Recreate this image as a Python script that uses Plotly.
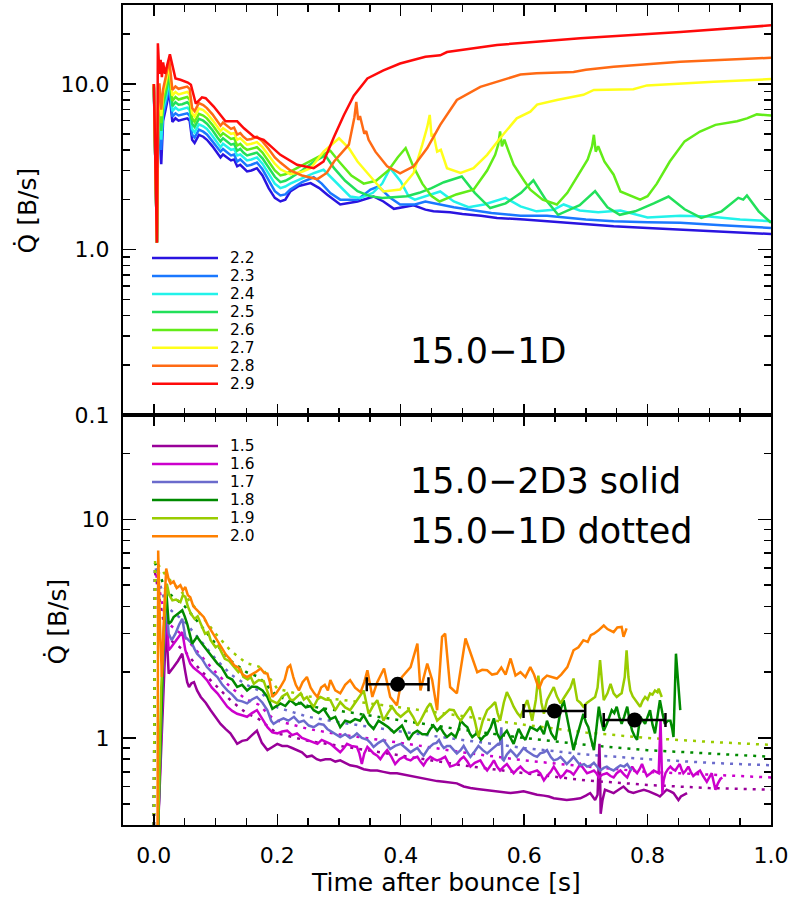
import math
import plotly.graph_objects as go

# ---------------- data: top panel (15.0-1D), Q-dot [B/s] vs time after bounce [s]
T_EARLY = [0.0, 0.005, 0.007, 0.009, 0.012, 0.015, 0.019, 0.025, 0.030, 0.035,
           0.040, 0.046, 0.054, 0.058, 0.062, 0.066, 0.073, 0.080, 0.086, 0.095,
           0.103, 0.108, 0.112, 0.119, 0.125, 0.130, 0.135, 0.140, 0.145, 0.151,
           0.158, 0.167, 0.176, 0.186, 0.196, 0.205]

Q22_EARLY = [9.5, 1.1, 5.0, 6.5, 3.27, 6.0, 7.0, 9.0, 5.9, 6.2, 6.0, 6.07, 6.2, 6.0, 4.6, 4.4, 4.93, 4.8, 4.6, 4.2,
             3.82, 3.6, 3.75, 3.56, 3.45, 3.5, 3.18, 3.25, 3.1, 2.96, 3.0, 3.1, 2.8, 2.35, 2.05, 1.95]
Q23_EARLY = [9.6, 1.1, 5.4, 7.0, 4.0, 6.5, 7.5, 9.7, 6.35, 6.65, 6.45, 6.55, 6.65, 6.45, 4.95, 4.75, 5.3, 5.15, 4.95, 4.5,
             4.1, 3.9, 4.05, 3.85, 3.7, 3.75, 3.4, 3.5, 3.35, 3.2, 3.25, 3.35, 3.05, 2.6, 2.25, 2.12]
Q24_EARLY = [9.7, 1.1, 5.8, 7.5, 4.6, 7.0, 8.1, 10.4, 6.85, 7.2, 6.95, 7.05, 7.2, 6.95, 5.35, 5.1, 5.7, 5.55, 5.35, 4.85,
             4.45, 4.15, 4.35, 4.15, 4.0, 4.05, 3.7, 3.75, 3.6, 3.45, 3.5, 3.6, 3.3, 2.85, 2.5, 2.35]
Q25_EARLY = [9.8, 1.1, 6.2, 8.1, 5.2, 7.5, 8.7, 11.2, 7.35, 7.75, 7.5, 7.55, 7.75, 7.5, 5.75, 5.5, 6.15, 6.0, 5.75, 5.25,
             4.75, 4.5, 4.7, 4.45, 4.3, 4.35, 3.95, 4.05, 3.85, 3.7, 3.75, 3.85, 3.55, 3.1, 2.75, 2.55]
Q26_EARLY = [9.9, 1.1, 6.7, 8.7, 5.8, 8.1, 9.4, 12.1, 7.9, 8.35, 8.05, 8.15, 8.35, 8.05, 6.2, 5.9, 6.6, 6.45, 6.2, 5.65,
             5.15, 4.85, 5.05, 4.8, 4.65, 4.7, 4.25, 4.35, 4.15, 4.0, 4.05, 4.15, 3.85, 3.4, 3.0, 2.8]
Q27_EARLY = [10.0, 1.1, 7.2, 9.4, 6.4, 8.7, 10.1, 13.0, 8.5, 8.95, 8.65, 8.75, 8.95, 8.65, 6.65, 6.35, 7.1, 6.95, 6.65, 6.05,
             5.5, 5.2, 5.4, 5.15, 5.0, 5.05, 4.6, 4.7, 4.5, 4.3, 4.35, 4.45, 4.15, 3.7, 3.3, 3.05]
Q28_EARLY = [10.0, 1.1, 7.8, 10.1, 7.0, 9.3, 10.9, 14.0, 9.2, 9.65, 9.35, 9.45, 9.65, 9.35, 7.15, 6.85, 7.65, 7.45, 7.15, 6.55,
             5.95, 5.6, 5.85, 5.55, 5.35, 5.45, 4.95, 5.05, 4.8, 4.6, 4.65, 4.8, 4.5, 4.05, 3.6, 3.35]

T22_LATE = [0.213, 0.221, 0.235, 0.254, 0.268, 0.281, 0.302, 0.33, 0.356, 0.372, 0.389, 0.405, 0.421, 0.44, 0.453,
            0.48, 0.50, 0.53, 0.556, 0.60, 0.637, 0.67, 0.70, 0.745, 0.80, 0.853, 0.92, 0.96, 1.0]
Q22_LATE = [2.0, 2.24, 2.42, 2.52, 2.35, 2.14, 1.87, 1.95, 2.09, 1.95, 1.76, 1.8, 1.85, 1.74, 1.70,
            1.68, 1.64, 1.6, 1.55, 1.52, 1.48, 1.46, 1.42, 1.38, 1.35, 1.32, 1.28, 1.26, 1.24]

T23_LATE = [0.213, 0.221, 0.24, 0.259, 0.272, 0.286, 0.302, 0.33, 0.351, 0.364, 0.383, 0.399, 0.423, 0.44, 0.46,
            0.486, 0.52, 0.547, 0.594, 0.637, 0.70, 0.745, 0.80, 0.853, 0.92, 1.0]
Q23_LATE = [2.15, 2.3, 2.55, 2.73, 2.5, 2.19, 2.0, 2.0, 2.3, 2.4, 2.05, 1.87, 1.87, 1.95, 1.88,
            1.8, 1.72, 1.66, 1.6, 1.6, 1.52, 1.48, 1.46, 1.45, 1.4, 1.35]

T24_LATE = [0.213, 0.221, 0.24, 0.26, 0.275, 0.29, 0.302, 0.318, 0.335, 0.355, 0.37, 0.383, 0.40, 0.413, 0.423,
            0.44, 0.464, 0.486, 0.51, 0.535, 0.57, 0.594, 0.62, 0.648, 0.664, 0.69, 0.72, 0.756, 0.80, 0.853,
            0.90, 0.95, 1.0]
Q24_LATE = [2.4, 2.5, 2.7, 2.9, 3.03, 2.65, 2.4, 2.09, 2.05, 2.2, 2.5, 3.1, 2.58, 2.09, 2.0,
            2.1, 2.24, 1.95, 1.8, 1.87, 2.05, 1.82, 1.7, 1.74, 1.87, 1.72, 1.68, 1.72, 1.56, 1.6,
            1.58, 1.52, 1.48]

T25_LATE = [0.213, 0.221, 0.24, 0.26, 0.278, 0.292, 0.31, 0.33, 0.35, 0.37, 0.39, 0.41, 0.43, 0.45, 0.47,
            0.499, 0.52, 0.545, 0.57, 0.595, 0.615, 0.635, 0.655, 0.69, 0.715, 0.735, 0.755, 0.78, 0.81, 0.834,
            0.86, 0.887, 0.92, 0.947, 0.955, 0.961, 0.98, 1.0]
Q25_LATE = [2.6, 2.7, 3.0, 3.4, 3.7, 3.1, 2.6, 2.25, 2.1, 2.05, 2.08, 2.1, 2.2, 2.35, 2.55,
            2.76, 2.2, 1.78, 1.9, 2.2, 2.62, 2.0, 1.62, 1.85, 2.25, 1.8, 1.62, 1.7, 1.9, 2.09,
            1.75, 1.55, 1.7, 2.05, 2.0, 2.12, 1.7, 1.45]

T26_LATE = [0.213, 0.221, 0.24, 0.265, 0.286, 0.30, 0.32, 0.34, 0.36, 0.38, 0.395, 0.408, 0.42, 0.435, 0.45,
            0.463, 0.49, 0.518, 0.54, 0.553, 0.558, 0.561, 0.564, 0.568, 0.575, 0.583, 0.60, 0.61, 0.63, 0.653,
            0.67, 0.691, 0.703, 0.71, 0.713, 0.716, 0.72, 0.73, 0.745, 0.756, 0.788, 0.80, 0.815, 0.836, 0.86,
            0.885, 0.91, 0.945, 0.961, 0.977, 1.0]
Q26_LATE = [2.85, 2.95, 3.2, 3.6, 3.95, 3.4, 2.8, 2.5, 2.6, 3.0, 3.6, 4.1, 3.2, 2.5, 2.1,
            1.95, 2.15, 2.3, 3.0, 3.73, 4.3, 5.16, 4.2, 4.6, 3.9, 3.25, 2.6, 2.3, 2.0, 1.87,
            2.2, 2.96, 3.5, 4.2, 4.93, 3.9, 4.2, 3.4, 2.83, 2.24, 2.0, 2.1, 2.5, 3.4, 4.5,
            5.16, 5.66, 5.95, 6.2, 6.55, 6.45]

T27_LATE = [0.221, 0.24, 0.254, 0.275, 0.30, 0.316, 0.33, 0.346, 0.372, 0.399, 0.421, 0.435, 0.443, 0.447, 0.450,
            0.453, 0.459, 0.465, 0.475, 0.497, 0.518, 0.54, 0.561, 0.588, 0.61, 0.621, 0.653, 0.696, 0.713, 0.777,
            0.799, 0.907, 1.0]
Q27_LATE = [2.85, 2.95, 3.1, 3.9, 4.7, 4.1, 3.4, 2.9, 2.24, 2.3, 2.9, 4.3, 5.5, 6.5, 4.8,
            5.0, 3.9, 4.0, 3.1, 2.9, 3.1, 3.73, 4.7, 6.2, 6.8, 7.5, 8.0, 8.6, 9.2, 9.3,
            9.8, 10.3, 10.7]

T28_LATE = [0.221, 0.24, 0.265, 0.28, 0.292, 0.316, 0.321, 0.325, 0.328, 0.331, 0.334, 0.338, 0.341, 0.344, 0.348,
            0.359, 0.378, 0.399, 0.421, 0.443, 0.464, 0.491, 0.529, 0.594, 0.62, 0.68, 0.70, 0.745, 0.853, 1.0]
Q28_LATE = [3.0, 2.8, 2.66, 2.9, 3.4, 4.3, 5.2, 6.3, 7.8, 6.07, 6.4, 5.6, 5.0, 5.2, 4.6,
            3.9, 3.18, 2.88, 3.18, 4.1, 5.66, 8.0, 9.6, 11.4, 11.6, 11.8, 12.2, 12.7, 13.6, 14.4]

T29 = [0.0, 0.005, 0.0065, 0.009, 0.011, 0.013, 0.015, 0.018, 0.026, 0.035,
       0.043, 0.055, 0.060, 0.068, 0.078, 0.084, 0.097, 0.116, 0.135, 0.146,
       0.162, 0.178, 0.205, 0.232, 0.259, 0.275, 0.292, 0.308, 0.324, 0.346,
       0.372, 0.399, 0.440, 0.464, 0.475, 0.556, 0.691, 0.853, 1.0]
Q29 = [10.0, 1.1, 17.6, 11.5, 14.0, 11.0, 13.5, 11.5, 15.1, 10.8,
       10.6, 10.2, 9.9, 7.6, 8.3, 8.2, 7.3, 5.95, 5.95, 5.4,
       4.8, 4.6, 3.73, 3.25, 3.1, 3.4, 4.8, 6.5, 8.5, 10.8,
       12.1, 13.3, 14.6, 14.9, 15.6, 17.2, 18.9, 20.6, 22.6]

TOP_LABELS = ["2.2", "2.3", "2.4", "2.5", "2.6", "2.7", "2.8", "2.9"]
TOP_COLORS = ["#2a14e0", "#1a78ff", "#22f2ea", "#22e05a", "#62ec18", "#ffff1a", "#ff6a14", "#ff0a0a"]

# ---------------- data: bottom panel (15.0-2D3 solid, 15.0-1D dotted), (t, Q) pairs
B20 = [(0.006, 0.4), (0.007, 7.2), (0.010, 3.2), (0.013, 1.9), (0.017, 4.0), (0.020, 5.95), (0.024, 5.3), (0.027, 5.08),
       (0.032, 5.2), (0.037, 4.85), (0.043, 5.0), (0.047, 4.73), (0.051, 4.9), (0.055, 4.5), (0.059, 4.4), (0.064, 4.0),
       (0.070, 3.84), (0.075, 3.7), (0.081, 3.57), (0.087, 3.3), (0.093, 3.1), (0.098, 2.95), (0.103, 2.8), (0.110, 2.6),
       (0.117, 2.4), (0.123, 2.3), (0.130, 2.15), (0.137, 2.1), (0.144, 1.95), (0.151, 1.9), (0.158, 1.95), (0.165, 2.0),
       (0.173, 2.08), (0.179, 1.98), (0.184, 1.97), (0.188, 1.8), (0.192, 1.54), (0.198, 1.6), (0.205, 1.71), (0.212, 1.85),
       (0.217, 2.1), (0.221, 2.15), (0.226, 1.9), (0.230, 1.75), (0.235, 1.65), (0.241, 1.8), (0.248, 1.9), (0.254, 1.7),
       (0.260, 1.6), (0.265, 1.54), (0.271, 1.7), (0.277, 1.75), (0.282, 1.65), (0.286, 1.84), (0.294, 1.65), (0.302, 1.6),
       (0.310, 1.75), (0.318, 1.84), (0.326, 1.7), (0.335, 1.62), (0.341, 1.8), (0.346, 2.04), (0.354, 1.54), (0.362, 1.8),
       (0.373, 2.08), (0.383, 1.54), (0.394, 1.41), (0.402, 1.9), (0.416, 2.11), (0.427, 2.7), (0.432, 1.65), (0.443, 2.19),
       (0.451, 1.84), (0.459, 1.34), (0.467, 2.9), (0.472, 3.0), (0.480, 1.71), (0.491, 1.6), (0.505, 2.85), (0.513, 2.43),
       (0.524, 2.0), (0.532, 2.05), (0.540, 2.04), (0.548, 1.95), (0.556, 1.97), (0.563, 2.1), (0.570, 1.95), (0.578, 2.31),
       (0.586, 1.93), (0.594, 2.0), (0.602, 1.9), (0.610, 2.11), (0.616, 1.95), (0.624, 1.68), (0.630, 1.85), (0.637, 1.93),
       (0.645, 1.9), (0.653, 1.87), (0.660, 1.95), (0.670, 2.11), (0.675, 2.3), (0.680, 2.52), (0.688, 2.6), (0.696, 2.8),
       (0.703, 2.75), (0.708, 2.95), (0.713, 3.0), (0.720, 3.1), (0.729, 3.27), (0.735, 3.15), (0.740, 3.1), (0.745, 3.05),
       (0.751, 3.2), (0.758, 3.22), (0.761, 2.9), (0.766, 3.17)]

B19 = [(0.007, 0.4), (0.012, 1.7), (0.017, 3.5), (0.021, 5.08), (0.025, 4.5), (0.030, 4.26), (0.036, 4.3), (0.043, 4.18),
       (0.047, 4.5), (0.051, 4.42), (0.055, 4.0), (0.060, 3.7), (0.066, 3.5), (0.071, 3.6), (0.076, 3.33), (0.083, 3.0),
       (0.088, 3.05), (0.092, 2.8), (0.100, 2.6), (0.105, 2.65), (0.108, 2.52), (0.115, 2.3), (0.122, 2.25), (0.130, 2.11),
       (0.137, 2.0), (0.141, 2.05), (0.145, 1.9), (0.152, 1.85), (0.157, 1.9), (0.162, 1.77), (0.170, 1.84), (0.178, 1.82),
       (0.185, 1.6), (0.189, 1.49), (0.200, 1.44), (0.208, 1.55), (0.216, 1.6), (0.221, 1.5), (0.226, 1.49), (0.232, 1.55),
       (0.238, 1.6), (0.243, 1.5), (0.248, 1.54), (0.254, 1.45), (0.259, 1.39), (0.265, 1.5), (0.270, 1.54), (0.278, 1.5),
       (0.286, 1.49), (0.294, 1.34), (0.302, 1.46), (0.310, 1.38), (0.318, 1.34), (0.324, 1.42), (0.329, 1.49), (0.334, 1.55),
       (0.340, 1.65), (0.348, 1.29), (0.355, 1.4), (0.362, 1.49), (0.367, 1.35), (0.372, 1.2), (0.379, 1.3), (0.386, 1.39),
       (0.393, 1.3), (0.400, 1.25), (0.407, 1.3), (0.413, 1.34), (0.420, 1.25), (0.427, 1.14), (0.432, 1.2), (0.437, 1.29),
       (0.443, 1.38), (0.448, 1.44), (0.454, 1.3), (0.459, 1.2), (0.466, 1.25), (0.472, 1.29), (0.479, 1.35), (0.486, 1.34),
       (0.492, 1.25), (0.497, 1.2), (0.505, 1.3), (0.513, 1.39), (0.520, 1.2), (0.526, 1.01), (0.533, 1.2), (0.540, 1.34),
       (0.547, 1.4), (0.553, 1.46), (0.557, 1.3), (0.561, 1.2), (0.567, 1.45), (0.572, 1.62), (0.578, 1.5), (0.583, 1.39),
       (0.589, 1.3), (0.594, 1.25), (0.600, 1.38), (0.605, 1.49), (0.609, 1.35), (0.613, 1.2), (0.619, 1.5), (0.623, 1.93),
       (0.628, 1.45), (0.632, 1.29), (0.637, 1.49), (0.643, 1.6), (0.648, 1.71), (0.653, 1.55), (0.659, 1.44), (0.664, 1.52),
       (0.669, 1.6), (0.675, 1.7), (0.680, 1.87), (0.686, 1.49), (0.691, 1.45), (0.696, 1.39), (0.702, 1.45), (0.707, 1.49),
       (0.715, 1.54), (0.719, 1.7), (0.723, 2.27), (0.727, 1.7), (0.729, 1.49), (0.735, 1.6), (0.740, 1.77), (0.745, 1.6),
       (0.750, 1.54), (0.755, 1.58), (0.758, 1.6), (0.763, 1.9), (0.766, 2.52), (0.769, 1.9), (0.772, 1.65), (0.776, 1.55),
       (0.780, 1.49), (0.784, 1.45), (0.788, 1.39), (0.792, 1.48), (0.796, 1.54), (0.800, 1.5), (0.804, 1.6), (0.808, 1.58),
       (0.812, 1.65), (0.816, 1.62), (0.818, 1.68), (0.823, 1.54)]

B18 = [(0.007, 0.4), (0.012, 1.4), (0.016, 3.0), (0.020, 4.73), (0.024, 3.33), (0.028, 3.4), (0.032, 3.57), (0.039, 3.7),
       (0.046, 3.84), (0.050, 3.6), (0.054, 3.33), (0.058, 3.0), (0.062, 2.7), (0.066, 2.8), (0.070, 2.9), (0.078, 2.7),
       (0.086, 2.52), (0.094, 2.35), (0.103, 2.19), (0.110, 2.1), (0.119, 1.9), (0.127, 1.85), (0.135, 1.71), (0.143, 1.75),
       (0.151, 1.65), (0.159, 1.72), (0.167, 1.71), (0.176, 1.65), (0.184, 1.54), (0.192, 1.36), (0.198, 1.4), (0.205, 1.44),
       (0.213, 1.4), (0.221, 1.49), (0.230, 1.42), (0.238, 1.45), (0.246, 1.38), (0.254, 1.4), (0.259, 1.34), (0.267, 1.3),
       (0.275, 1.36), (0.281, 1.28), (0.286, 1.22), (0.294, 1.25), (0.302, 1.12), (0.310, 1.2), (0.318, 1.18), (0.326, 1.22),
       (0.334, 1.2), (0.340, 1.27), (0.348, 1.16), (0.356, 1.1), (0.364, 1.2), (0.372, 1.16), (0.380, 1.12), (0.389, 1.06),
       (0.395, 1.1), (0.402, 1.14), (0.408, 1.05), (0.413, 0.98), (0.420, 1.05), (0.427, 1.08), (0.435, 1.04), (0.443, 1.04),
       (0.448, 1.1), (0.453, 1.14), (0.459, 1.08), (0.464, 1.12), (0.470, 1.05), (0.475, 1.01), (0.482, 1.05), (0.489, 1.01),
       (0.494, 1.1), (0.497, 1.2), (0.503, 1.15), (0.508, 1.12), (0.512, 1.05), (0.516, 1.01), (0.523, 1.05), (0.530, 0.98),
       (0.535, 1.02), (0.540, 1.04), (0.546, 1.12), (0.551, 1.23), (0.556, 1.05), (0.561, 0.99), (0.567, 1.04), (0.572, 1.08),
       (0.578, 1.0), (0.583, 0.94), (0.587, 1.02), (0.591, 1.1), (0.597, 1.02), (0.602, 0.98), (0.606, 1.05), (0.610, 1.12),
       (0.616, 1.1), (0.621, 1.08), (0.626, 1.12), (0.632, 1.04), (0.637, 1.2), (0.644, 1.05), (0.651, 0.98), (0.655, 1.15),
       (0.659, 1.34), (0.664, 1.49), (0.668, 1.3), (0.672, 1.12), (0.676, 0.98), (0.680, 0.88), (0.684, 0.98), (0.688, 1.08),
       (0.692, 1.2), (0.696, 1.29), (0.700, 1.18), (0.704, 1.12), (0.708, 1.0), (0.713, 0.88), (0.717, 1.1), (0.721, 1.39),
       (0.725, 1.2), (0.729, 1.08), (0.734, 1.16), (0.738, 1.25), (0.742, 1.34), (0.746, 1.3), (0.750, 1.39), (0.754, 1.25),
       (0.758, 1.16), (0.762, 1.25), (0.767, 1.39), (0.771, 1.2), (0.775, 1.08), (0.779, 1.02), (0.783, 0.98), (0.788, 1.25),
       (0.792, 1.2), (0.796, 1.16), (0.800, 1.25), (0.804, 1.34), (0.808, 1.15), (0.812, 1.05), (0.816, 1.25), (0.820, 1.49),
       (0.824, 1.3), (0.828, 1.16), (0.833, 1.2), (0.837, 1.2), (0.840, 1.1), (0.842, 1.01), (0.846, 2.43), (0.849, 1.8),
       (0.851, 1.49), (0.853, 1.34)]

B17 = [(0.007, 0.4), (0.012, 1.15), (0.016, 2.6), (0.020, 4.26), (0.024, 3.0), (0.029, 2.8), (0.035, 3.0), (0.041, 3.3),
       (0.046, 3.51), (0.051, 2.9), (0.056, 2.8), (0.062, 2.7), (0.066, 2.55), (0.070, 2.43), (0.078, 2.3), (0.086, 2.11),
       (0.094, 2.0), (0.103, 1.9), (0.111, 1.75), (0.119, 1.65), (0.127, 1.58), (0.135, 1.49), (0.143, 1.47), (0.151, 1.44),
       (0.159, 1.5), (0.167, 1.54), (0.176, 1.45), (0.184, 1.34), (0.190, 1.2), (0.194, 1.16), (0.202, 1.2), (0.210, 1.23),
       (0.218, 1.2), (0.227, 1.25), (0.235, 1.18), (0.243, 1.2), (0.251, 1.14), (0.259, 1.12), (0.267, 1.16), (0.275, 1.15),
       (0.281, 1.1), (0.286, 1.08), (0.294, 1.04), (0.302, 1.01), (0.310, 1.04), (0.318, 1.0), (0.324, 1.02), (0.329, 1.05),
       (0.337, 1.0), (0.346, 0.98), (0.351, 0.95), (0.356, 0.91), (0.364, 0.95), (0.372, 0.98), (0.378, 0.93), (0.383, 0.89),
       (0.391, 0.92), (0.400, 0.94), (0.408, 0.9), (0.416, 0.86), (0.421, 0.88), (0.427, 0.9), (0.432, 0.86), (0.437, 0.83),
       (0.445, 0.9), (0.453, 0.94), (0.458, 0.95), (0.462, 0.98), (0.466, 0.93), (0.470, 0.9), (0.475, 0.92), (0.480, 0.92),
       (0.486, 0.88), (0.491, 0.85), (0.497, 0.88), (0.502, 0.92), (0.508, 0.86), (0.513, 0.82), (0.520, 0.87), (0.526, 0.92),
       (0.533, 0.88), (0.540, 0.85), (0.546, 0.88), (0.553, 0.92), (0.558, 0.94), (0.561, 0.94), (0.563, 1.12), (0.565, 0.8),
       (0.567, 0.79), (0.572, 0.84), (0.578, 0.88), (0.583, 0.85), (0.588, 0.82), (0.594, 0.86), (0.599, 0.9), (0.605, 0.87),
       (0.610, 0.85), (0.616, 0.83), (0.621, 0.82), (0.626, 0.85), (0.632, 0.86), (0.637, 0.88), (0.643, 0.82), (0.648, 0.79),
       (0.654, 0.8), (0.659, 0.82), (0.664, 0.79), (0.669, 0.76), (0.675, 0.79), (0.680, 0.82), (0.686, 0.78), (0.691, 0.75),
       (0.697, 0.76), (0.702, 0.74), (0.708, 0.75), (0.713, 0.77), (0.718, 0.74), (0.723, 0.71), (0.729, 0.73), (0.734, 0.74),
       (0.740, 0.72), (0.745, 0.71), (0.750, 0.73), (0.756, 0.75), (0.762, 0.74), (0.767, 0.76), (0.771, 0.73), (0.775, 0.71)]

B16 = [(0.007, 0.4), (0.012, 1.0), (0.016, 2.4), (0.020, 3.84), (0.024, 2.52), (0.028, 2.6), (0.032, 2.7), (0.039, 2.85),
       (0.046, 3.05), (0.051, 2.52), (0.055, 2.35), (0.059, 2.19), (0.064, 2.1), (0.070, 2.04), (0.078, 1.95), (0.086, 1.84),
       (0.094, 1.7), (0.103, 1.6), (0.111, 1.5), (0.119, 1.39), (0.127, 1.33), (0.135, 1.29), (0.143, 1.27), (0.151, 1.25),
       (0.159, 1.3), (0.167, 1.34), (0.176, 1.22), (0.184, 1.12), (0.192, 1.06), (0.200, 1.05), (0.208, 1.07), (0.216, 1.08),
       (0.224, 1.03), (0.232, 1.05), (0.240, 1.0), (0.248, 0.98), (0.256, 0.96), (0.265, 0.94), (0.272, 0.98), (0.279, 0.96),
       (0.286, 0.94), (0.294, 0.9), (0.302, 0.86), (0.308, 0.9), (0.313, 0.94), (0.320, 0.92), (0.329, 0.91), (0.333, 0.85),
       (0.337, 0.76), (0.341, 0.85), (0.346, 0.91), (0.351, 0.88), (0.356, 0.85), (0.362, 0.83), (0.367, 0.8), (0.372, 0.84),
       (0.378, 0.88), (0.385, 0.82), (0.391, 0.76), (0.398, 0.8), (0.405, 0.82), (0.410, 0.8), (0.416, 0.79), (0.421, 0.81),
       (0.427, 0.82), (0.432, 0.78), (0.437, 0.75), (0.442, 0.79), (0.448, 0.82), (0.454, 0.8), (0.459, 0.79), (0.465, 0.8),
       (0.472, 0.82), (0.476, 0.78), (0.480, 0.74), (0.486, 0.75), (0.491, 0.76), (0.497, 0.8), (0.502, 0.82), (0.508, 0.78),
       (0.513, 0.74), (0.520, 0.77), (0.529, 0.79), (0.535, 0.74), (0.540, 0.71), (0.546, 0.75), (0.551, 0.79), (0.556, 0.74),
       (0.561, 0.71), (0.567, 0.74), (0.572, 0.76), (0.578, 0.72), (0.583, 0.69), (0.589, 0.72), (0.594, 0.74), (0.600, 0.71),
       (0.607, 0.69), (0.614, 0.7), (0.621, 0.71), (0.626, 0.69), (0.632, 0.64), (0.637, 0.67), (0.643, 0.7), (0.648, 0.74),
       (0.654, 0.7), (0.659, 0.66), (0.664, 0.68), (0.669, 0.71), (0.675, 0.7), (0.680, 0.68), (0.686, 0.72), (0.691, 0.76),
       (0.697, 0.72), (0.702, 0.69), (0.708, 0.7), (0.713, 0.71), (0.717, 0.69), (0.721, 0.66), (0.727, 0.68), (0.734, 0.69),
       (0.740, 0.67), (0.745, 0.66), (0.750, 0.69), (0.756, 0.71), (0.762, 0.68), (0.767, 0.66), (0.771, 0.7), (0.775, 0.74),
       (0.779, 0.71), (0.783, 0.69), (0.787, 0.72), (0.791, 0.76), (0.795, 0.71), (0.799, 0.67), (0.805, 0.69), (0.810, 0.71),
       (0.814, 0.7), (0.818, 0.69), (0.821, 1.2), (0.822, 0.9), (0.824, 0.56), (0.826, 0.64), (0.829, 0.69), (0.833, 0.72),
       (0.837, 0.74), (0.841, 0.72), (0.845, 0.71), (0.849, 0.74), (0.852, 0.76), (0.855, 0.72), (0.858, 0.69), (0.862, 0.71),
       (0.866, 0.74), (0.870, 0.7), (0.874, 0.67), (0.879, 0.69), (0.885, 0.71), (0.890, 0.67), (0.896, 0.63), (0.900, 0.66),
       (0.904, 0.69), (0.907, 0.63), (0.910, 0.58), (0.914, 0.62), (0.918, 0.65), (0.921, 0.66)]

B15 = [(0.007, 0.4), (0.012, 0.9), (0.016, 2.0), (0.020, 3.33), (0.024, 1.97), (0.028, 2.05), (0.032, 2.11), (0.039, 2.25),
       (0.046, 2.43), (0.051, 2.0), (0.054, 1.8), (0.057, 1.71), (0.061, 1.78), (0.065, 1.8), (0.070, 1.65), (0.076, 1.54),
       (0.084, 1.45), (0.092, 1.34), (0.100, 1.25), (0.108, 1.16), (0.116, 1.1), (0.124, 1.05), (0.130, 0.99), (0.135, 0.94),
       (0.143, 0.97), (0.151, 0.98), (0.159, 1.03), (0.167, 1.08), (0.175, 0.95), (0.184, 0.88), (0.192, 0.91), (0.200, 0.94),
       (0.208, 0.92), (0.216, 0.92), (0.224, 0.9), (0.232, 0.88), (0.240, 0.86), (0.248, 0.82), (0.256, 0.83), (0.264, 0.8),
       (0.270, 0.79), (0.278, 0.8), (0.286, 0.8), (0.294, 0.78), (0.302, 0.79), (0.310, 0.77), (0.318, 0.75), (0.329, 0.74),
       (0.340, 0.72), (0.351, 0.71), (0.362, 0.71), (0.372, 0.7), (0.383, 0.69), (0.394, 0.69), (0.405, 0.68), (0.416, 0.67),
       (0.427, 0.66), (0.437, 0.65), (0.448, 0.64), (0.459, 0.635), (0.470, 0.63), (0.480, 0.625), (0.491, 0.62), (0.502, 0.6),
       (0.513, 0.59), (0.524, 0.585), (0.535, 0.58), (0.545, 0.575), (0.556, 0.57), (0.567, 0.565), (0.578, 0.56), (0.589, 0.565),
       (0.599, 0.57), (0.610, 0.56), (0.621, 0.55), (0.632, 0.545), (0.640, 0.54), (0.648, 0.53), (0.659, 0.525), (0.669, 0.52),
       (0.680, 0.525), (0.691, 0.53), (0.700, 0.545), (0.707, 0.56), (0.711, 0.54), (0.715, 0.52), (0.719, 0.55), (0.722, 0.94),
       (0.723, 0.7), (0.724, 0.45), (0.727, 0.52), (0.731, 0.58), (0.738, 0.57), (0.745, 0.56), (0.753, 0.58), (0.761, 0.6),
       (0.769, 0.57), (0.777, 0.56), (0.785, 0.57), (0.794, 0.58), (0.802, 0.57), (0.810, 0.56), (0.815, 0.55), (0.820, 0.54),
       (0.826, 0.56), (0.831, 0.58), (0.837, 0.57), (0.842, 0.56), (0.846, 0.54), (0.850, 0.52), (0.854, 0.54), (0.858, 0.55),
       (0.864, 0.56)]

D19 = [(0.0, 0.4), (0.002, 6.5), (0.02, 5.5), (0.05, 4.5), (0.075, 3.7), (0.1, 3.0), (0.125, 2.5), (0.15, 2.2), (0.17, 2.12),
       (0.18, 2.0), (0.19, 1.84), (0.2, 1.68), (0.25, 1.55), (0.3, 1.5), (0.4, 1.38), (0.5, 1.26), (0.6, 1.15), (0.7, 1.06),
       (0.8, 1.0), (0.9, 0.96), (1.0, 0.93)]
D18 = [(0.0, 0.4), (0.002, 6.3), (0.02, 4.7), (0.05, 4.0), (0.075, 3.3), (0.1, 2.7), (0.125, 2.25), (0.15, 2.0), (0.17, 1.9),
       (0.19, 1.65), (0.2, 1.55), (0.25, 1.4), (0.3, 1.33), (0.4, 1.2), (0.5, 1.09), (0.6, 1.0), (0.7, 0.93), (0.8, 0.88),
       (0.9, 0.85), (1.0, 0.82)]
D17 = [(0.0, 0.4), (0.002, 6.1), (0.02, 4.0), (0.05, 3.4), (0.075, 2.8), (0.1, 2.3), (0.125, 1.95), (0.15, 1.75), (0.17, 1.65),
       (0.19, 1.45), (0.2, 1.38), (0.25, 1.25), (0.3, 1.18), (0.4, 1.07), (0.5, 0.98), (0.6, 0.9), (0.7, 0.84), (0.8, 0.8),
       (0.9, 0.77), (1.0, 0.75)]
D16 = [(0.0, 0.4), (0.002, 5.9), (0.02, 3.4), (0.05, 2.9), (0.075, 2.4), (0.1, 2.0), (0.125, 1.7), (0.15, 1.5), (0.17, 1.42),
       (0.19, 1.25), (0.2, 1.2), (0.25, 1.1), (0.3, 1.04), (0.4, 0.95), (0.5, 0.86), (0.6, 0.79), (0.7, 0.74), (0.8, 0.7),
       (0.9, 0.68), (1.0, 0.66)]
D15 = [(0.0, 0.4), (0.002, 5.7), (0.02, 2.9), (0.05, 2.5), (0.075, 2.05), (0.1, 1.75), (0.125, 1.48), (0.15, 1.3), (0.17, 1.22),
       (0.19, 1.1), (0.2, 1.05), (0.25, 0.97), (0.3, 0.92), (0.4, 0.83), (0.5, 0.75), (0.6, 0.69), (0.7, 0.64), (0.8, 0.61),
       (0.9, 0.59), (1.0, 0.58)]

BOT_LABELS = ["1.5", "1.6", "1.7", "1.8", "1.9", "2.0"]
BOT_COLORS = ["#990099", "#cc00cc", "#6b6bcc", "#008a00", "#99cc00", "#ff8000"]

# observational points with horizontal error bars
OBS_T = [0.395, 0.649, 0.779]
OBS_Q = [1.76, 1.33, 1.21]
OBS_DT = [0.05, 0.05, 0.05]

TICK_X = [0.0, 0.2, 0.4, 0.6, 0.8, 1.0]
TICK_X_TEXT = ["0.0", "0.2", "0.4", "0.6", "0.8", "1.0"]

# ---------------------------------------------------------------- figure
FONT = "DejaVu Sans"
W, H = 793, 907
ML, MR, MT, MB = 123, 22, 3, 82
PW, PH = W - ML - MR, H - MT - MB


def px_x(x):
    return (x - ML) / PW


def px_y(y):
    return (H - MB - y) / PH


fig = go.Figure()


def line(t, q, color, xa, ya, dash=None, width=2.5):
    fig.add_trace(go.Scatter(x=t, y=q, mode="lines", xaxis=xa, yaxis=ya, showlegend=False,
                             hoverinfo="skip", line=dict(color=color, width=width, dash=dash)))


top_series = [
    (T_EARLY + T22_LATE, Q22_EARLY + Q22_LATE),
    (T_EARLY + T23_LATE, Q23_EARLY + Q23_LATE),
    (T_EARLY + T24_LATE, Q24_EARLY + Q24_LATE),
    (T_EARLY + T25_LATE, Q25_EARLY + Q25_LATE),
    (T_EARLY + T26_LATE, Q26_EARLY + Q26_LATE),
    (T_EARLY + T27_LATE, Q27_EARLY + Q27_LATE),
    (T_EARLY + T28_LATE, Q28_EARLY + Q28_LATE),
    (T29, Q29),
]
for (t, q), c in zip(top_series, TOP_COLORS):
    line(t, q, c, "x", "y")

dotted = [D15, D16, D17, D18, D19]
for d, c in zip(dotted, BOT_COLORS[:5]):
    line([p[0] for p in d], [p[1] for p in d], c, "x2", "y2", dash="3px,6px", width=2.5)

solid = [B15, B16, B17, B18, B19, B20]
for d, c in zip(solid, BOT_COLORS):
    line([p[0] for p in d], [p[1] for p in d], c, "x2", "y2", width=2.5)

fig.add_trace(go.Scatter(x=OBS_T, y=OBS_Q, mode="markers", xaxis="x2", yaxis="y2", showlegend=False,
                         hoverinfo="skip", marker=dict(color="black", size=15),
                         error_x=dict(type="data", array=OBS_DT, color="black", thickness=2.5, width=7)))

minor_x = [round(0.05 * i, 2) for i in range(-1, 21) if i % 4 != 0]
axis_common = dict(showline=True, linecolor="black", linewidth=2, mirror="allticks", ticks="inside",
                   tickcolor="black", tickwidth=1.5, showgrid=False, zeroline=False,
                   tickfont=dict(family=FONT, size=22, color="black"))

fig.update_layout(
    width=W, height=H, margin=dict(l=ML, r=MR, t=MT, b=MB),
    paper_bgcolor="white", plot_bgcolor="white",
    font=dict(family=FONT, color="black"),
    xaxis=dict(domain=[0, 1], anchor="y", range=[-0.05, 1.0], tickvals=TICK_X, showticklabels=False,
               ticklen=11, minor=dict(tickvals=minor_x, ticks="inside", ticklen=7, tickwidth=1.5, tickcolor="black"),
               **axis_common),
    yaxis=dict(domain=[0.5, 1], anchor="x", type="log", range=[-1, math.log10(30)],
               tickvals=[0.1, 1, 10], ticktext=["0.1", "1.0", "10.0"], ticklen=13, ticklabelstandoff=7,
               minor=dict(tickvals=[0.2, 0.3, 0.4, 0.5, 0.6, 0.7, 0.8, 0.9, 2, 3, 4, 5, 6, 7, 8, 9, 20],
                          ticks="inside", ticklen=7, tickwidth=1.5, tickcolor="black"),
               **axis_common),
    xaxis2=dict(domain=[0, 1], anchor="y2", range=[-0.05, 1.0], tickvals=TICK_X, ticktext=TICK_X_TEXT,
                ticklen=11, ticklabelstandoff=10,
                minor=dict(tickvals=minor_x, ticks="inside", ticklen=7, tickwidth=1.5, tickcolor="black"),
                **axis_common),
    yaxis2=dict(domain=[0, 0.5], anchor="x2", type="log", range=[math.log10(0.4), math.log10(30)],
                tickvals=[1, 10], ticktext=["1", "10"], ticklen=13, ticklabelstandoff=7,
                minor=dict(tickvals=[0.5, 0.6, 0.7, 0.8, 0.9, 2, 3, 4, 5, 6, 7, 8, 9, 20],
                           ticks="inside", ticklen=7, tickwidth=1.5, tickcolor="black"),
                **axis_common),
)

shapes = []
annotations = []
LEG_FONT = 15.4
# legends
for i, (lab, c) in enumerate(zip(TOP_LABELS, TOP_COLORS)):
    y = px_y(256.7 + 18 * i)
    shapes.append(dict(type="line", xref="paper", yref="paper", x0=px_x(152), x1=px_x(218), y0=y, y1=y,
                       line=dict(color=c, width=2.5)))
    annotations.append(dict(xref="paper", yref="paper", x=px_x(229), y=y, text=lab, showarrow=False,
                            xanchor="left", yanchor="middle", borderpad=0,
                            font=dict(family=FONT, size=LEG_FONT, color="black")))
for i, (lab, c) in enumerate(zip(BOT_LABELS, BOT_COLORS)):
    y = px_y(445 + 18.1 * i)
    shapes.append(dict(type="line", xref="paper", yref="paper", x0=px_x(152), x1=px_x(218), y0=y, y1=y,
                       line=dict(color=c, width=2.5)))
    annotations.append(dict(xref="paper", yref="paper", x=px_x(229), y=y, text=lab, showarrow=False,
                            xanchor="left", yanchor="middle", borderpad=0,
                            font=dict(family=FONT, size=LEG_FONT, color="black")))

# panel captions
for txt, yy in [("15.0\u22121D", 350), ("15.0\u22122D3 solid", 480), ("15.0\u22121D dotted", 530)]:
    annotations.append(dict(xref="paper", yref="paper", x=px_x(408), y=px_y(yy), text=txt, showarrow=False,
                            xanchor="left", yanchor="middle", font=dict(family=FONT, size=35, color="black")))

# axis titles
annotations.append(dict(xref="paper", yref="paper", x=px_x(27), y=px_y(209), text="Q\u0307 [B/s]", textangle=-90,
                        showarrow=False, xanchor="center", yanchor="middle",
                        font=dict(family=FONT, size=25, color="black")))
annotations.append(dict(xref="paper", yref="paper", x=px_x(57), y=px_y(621), text="Q\u0307 [B/s]", textangle=-90,
                        showarrow=False, xanchor="center", yanchor="middle",
                        font=dict(family=FONT, size=25, color="black")))
annotations.append(dict(xref="paper", yref="paper", x=px_x(446), y=px_y(883), text="Time after bounce [s]",
                        showarrow=False, xanchor="center", yanchor="middle",
                        font=dict(family=FONT, size=25, color="black")))

fig.update_layout(shapes=shapes, annotations=annotations)
fig.write_html("out.html", config={"displayModeBar": False, "staticPlot": True},
               post_script="document.body.style.margin='0';document.body.style.padding='0';")
